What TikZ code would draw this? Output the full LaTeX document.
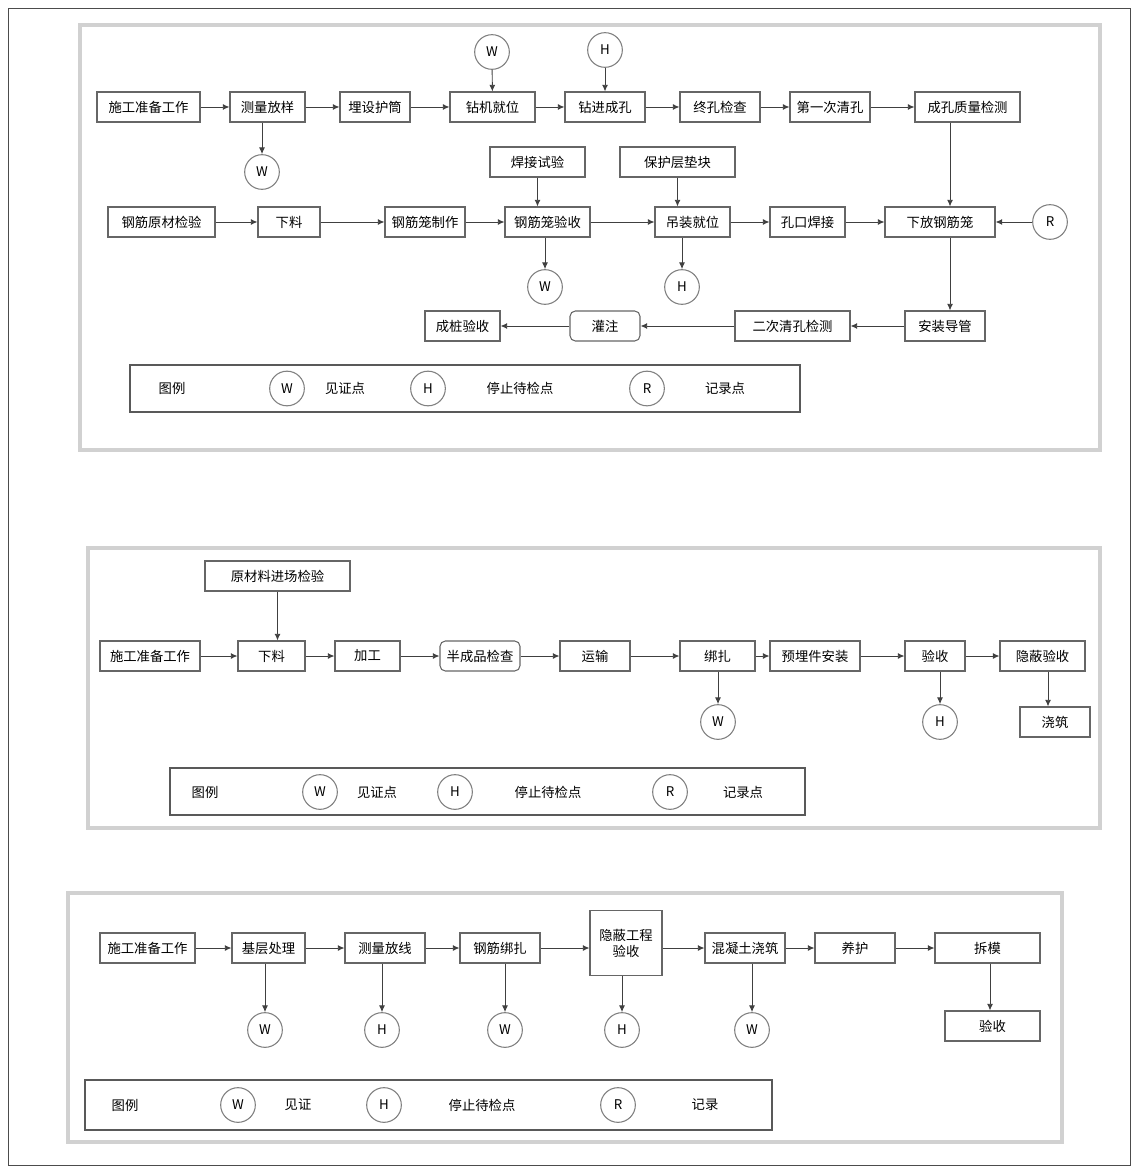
\documentclass[tikz,border=0pt]{standalone}
\usepackage{fontspec}
\newfontfamily\cjk{Noto Sans CJK SC}
\usetikzlibrary{arrows.meta}
\tikzset{
  bw/.style={minimum width=(#1)*0.75pt},
  box/.style={draw=black!60, line width=0.8pt, fill=white, minimum height=22.5pt, inner sep=2pt, font=\cjk\fontsize{10}{12}\selectfont, align=center},
  rbox/.style={rounded corners=4pt},
  circ/.style={draw=black!50, line width=0.8pt, circle, fill=white, minimum size=26pt, inner sep=0pt, font=\cjk\fontsize{10}{12}\selectfont},
  arr/.style={draw=black!75, line width=0.7pt, -{Latex[length=5pt,width=4.5pt]}},
  panel/.style={draw=black!18, line width=3pt},
  legend/.style={draw=black!65, line width=1pt, fill=white},
  lab/.style={font=\cjk\fontsize{10}{12}\selectfont, inner sep=1pt},
}
\newcommand\bxn[6][]{\node[box,#1,bw={#4-#3}] (#2) at ({(#3+#4)/2},#5) {#6};}
\begin{document}
\begin{tikzpicture}[x=0.75pt,y=-0.75pt]
\useasboundingbox (0,0) rectangle (1136,1169);
\draw[black!70, line width=0.6pt] (8,8) rectangle (1130,1165);
% ---------- panels ----------
\draw[panel] (80,25) rectangle (1100,450);
\draw[panel] (88,548) rectangle (1100,828);
\draw[panel] (68,893) rectangle (1062,1142);
\coordinate (x950) at (950,0);
\coordinate (x1048) at (1048,0);
\coordinate (x990) at (990,0);

% ================= Panel 1 =================
% row 1
\bxn{B1}{97}{200}{107}{施工准备工作}
\bxn{B2}{230}{305}{107}{测量放样}
\bxn{B3}{340}{410}{107}{埋设护筒}
\bxn{B4}{450}{535}{107}{钻机就位}
\bxn{B5}{565}{645}{107}{钻进成孔}
\bxn{B6}{680}{760}{107}{终孔检查}
\bxn{B7}{790}{870}{107}{第一次清孔}
\bxn{B8}{915}{1020}{107}{成孔质量检测}
\node[circ] (cB4) at (492,52) {W};
\node[circ] (cB5) at (605,50) {H};
\node[circ] (cB2) at (262,172) {W};
\draw[arr] (B1) -- (B2);
\draw[arr] (B2) -- (B3);
\draw[arr] (B3) -- (B4);
\draw[arr] (B4) -- (B5);
\draw[arr] (B5) -- (B6);
\draw[arr] (B6) -- (B7);
\draw[arr] (B7) -- (B8);
\draw[arr] (cB4) -- (B4);
\draw[arr] (cB5) -- (B5);
\draw[arr] (cB2 |- B2.south) -- (cB2);
% row 2
\bxn{C1}{108}{215}{222}{钢筋原材检验}
\bxn{C2}{258}{320}{222}{下料}
\bxn{C3}{385}{465}{222}{钢筋笼制作}
\bxn{C4}{505}{590}{222}{钢筋笼验收}
\bxn{C5}{655}{730}{222}{吊装就位}
\bxn{C6}{770}{845}{222}{孔口焊接}
\bxn{C7}{885}{995}{222}{下放钢筋笼}
\node[box,bw={95}] (D1) at (537.5,162) {焊接试验};
\node[box,bw={115}] (D2) at (677.5,162) {保护层垫块};
\node[circ] (cC4) at (545,287) {W};
\node[circ] (cC5) at (682,287) {H};
\node[circ] (cC7) at (1050,222) {R};
\draw[arr] (C1) -- (C2);
\draw[arr] (C2) -- (C3);
\draw[arr] (C3) -- (C4);
\draw[arr] (C4) -- (C5);
\draw[arr] (C5) -- (C6);
\draw[arr] (C6) -- (C7);
\draw[arr] (cC7) -- (C7);
\draw[arr] (D1.south) -- (D1.south |- C4.north);
\draw[arr] (D2.south) -- (D2.south |- C5.north);
\draw[arr] (cC4 |- C4.south) -- (cC4);
\draw[arr] (cC5 |- C5.south) -- (cC5);
\draw[arr] (B8.south -| x950) -- (C7.north -| x950);
% row 3
\bxn{E1}{425}{500}{326}{成桩验收}
\bxn[rbox]{E2}{570}{640}{326}{灌注}
\bxn{E3}{735}{850}{326}{二次清孔检测}
\bxn{E4}{905}{985}{326}{安装导管}
\draw[arr] (C7.south -| x950) -- (E4.north -| x950);
\draw[arr] (E4) -- (E3);
\draw[arr] (E3) -- (E2);
\draw[arr] (E2) -- (E1);
% legend 1
\node[legend, minimum width=502.5pt, minimum height=35.25pt] (L1) at (465,388.5) {};
\node[lab] (L1t) at (172,388.5) {图例};
\node[circ] (L1a) at (287,388.5) {W};
\node[lab] (L1at) at (345,388.5) {见证点};
\node[circ] (L1b) at (428,388.5) {H};
\node[lab] (L1bt) at (520,388.5) {停止待检点};
\node[circ] (L1c) at (647,388.5) {R};
\node[lab] (L1ct) at (725,388.5) {记录点};

% ================= Panel 2 =================
\node[box,bw={145}] (F0) at (277.5,576) {原材料进场检验};
\bxn{G1}{100}{200}{656}{施工准备工作}
\bxn{G2}{238}{305}{656}{下料}
\bxn{G3}{335}{400}{656}{加工}
\bxn[rbox]{G4}{440}{520}{656}{半成品检查}
\bxn{G5}{560}{630}{656}{运输}
\bxn{G6}{680}{755}{656}{绑扎}
\bxn{G7}{770}{860}{656}{预埋件安装}
\bxn{G8}{905}{965}{656}{验收}
\bxn{G9}{1000}{1085}{656}{隐蔽验收}
\node[box,bw={70}] (H1) at (1055,722) {浇筑};
\node[circ] (cG6) at (718,722) {W};
\node[circ] (cG8) at (940,722) {H};
\draw[arr] (F0.south) -- (F0.south |- G2.north);
\draw[arr] (G1) -- (G2);
\draw[arr] (G2) -- (G3);
\draw[arr] (G3) -- (G4);
\draw[arr] (G4) -- (G5);
\draw[arr] (G5) -- (G6);
\draw[arr] (G6) -- (G7);
\draw[arr] (G7) -- (G8);
\draw[arr] (G8) -- (G9);
\draw[arr] (cG6 |- G6.south) -- (cG6);
\draw[arr] (cG8 |- G8.south) -- (cG8);
\draw[arr] (G9.south -| x1048) -- (H1.north -| x1048);
% legend 2
\node[legend, minimum width=476.25pt, minimum height=35.25pt] (L2) at (487.5,791.5) {};
\node[lab] (L2t) at (205,792) {图例};
\node[circ] (L2a) at (320,792) {W};
\node[lab] (L2at) at (377,792) {见证点};
\node[circ] (L2b) at (455,792) {H};
\node[lab] (L2bt) at (548,792) {停止待检点};
\node[circ] (L2c) at (670,792) {R};
\node[lab] (L2ct) at (743,792) {记录点};

% ================= Panel 3 =================
\bxn{K1}{100}{195}{948}{施工准备工作}
\bxn{K2}{232}{305}{948}{基层处理}
\bxn{K3}{345}{425}{948}{测量放线}
\bxn{K4}{460}{540}{948}{钢筋绑扎}
\node[box,bw={72}, minimum height=48.75pt] (K5) at (626,943) {隐蔽工程\\验收};
\bxn{K6}{705}{785}{948}{混凝土浇筑}
\bxn{K7}{815}{895}{948}{养护}
\bxn{K8}{935}{1040}{948}{拆模}
\node[box,bw={95}] (M1) at (992.5,1026) {验收};
\node[circ] (cK2) at (265,1030) {W};
\node[circ] (cK3) at (382,1030) {H};
\node[circ] (cK4) at (505,1030) {W};
\node[circ] (cK5) at (622,1030) {H};
\node[circ] (cK6) at (752,1030) {W};
\draw[arr] (K1) -- (K2);
\draw[arr] (K2) -- (K3);
\draw[arr] (K3) -- (K4);
\draw[arr] (K4.east) -- (K4.east -| K5.west);
\draw[arr] (K5.east |- K6.west) -- (K6.west);
\draw[arr] (K6) -- (K7);
\draw[arr] (K7) -- (K8);
\draw[arr] (cK2 |- K2.south) -- (cK2);
\draw[arr] (cK3 |- K3.south) -- (cK3);
\draw[arr] (cK4 |- K4.south) -- (cK4);
\draw[arr] (cK5 |- K5.south) -- (cK5);
\draw[arr] (cK6 |- K6.south) -- (cK6);
\draw[arr] (K8.south -| x990) -- (M1.north -| x990);
% legend 3
\node[legend, minimum width=515.25pt, minimum height=37.5pt] (L3) at (428.5,1105) {};
\node[lab] (L3t) at (125,1105) {图例};
\node[circ] (L3a) at (238,1105) {W};
\node[lab] (L3at) at (298,1105) {见证};
\node[circ] (L3b) at (384,1105) {H};
\node[lab] (L3bt) at (482,1105) {停止待检点};
\node[circ] (L3c) at (618,1105) {R};
\node[lab] (L3ct) at (705,1105) {记录};
\end{tikzpicture}
\end{document}
